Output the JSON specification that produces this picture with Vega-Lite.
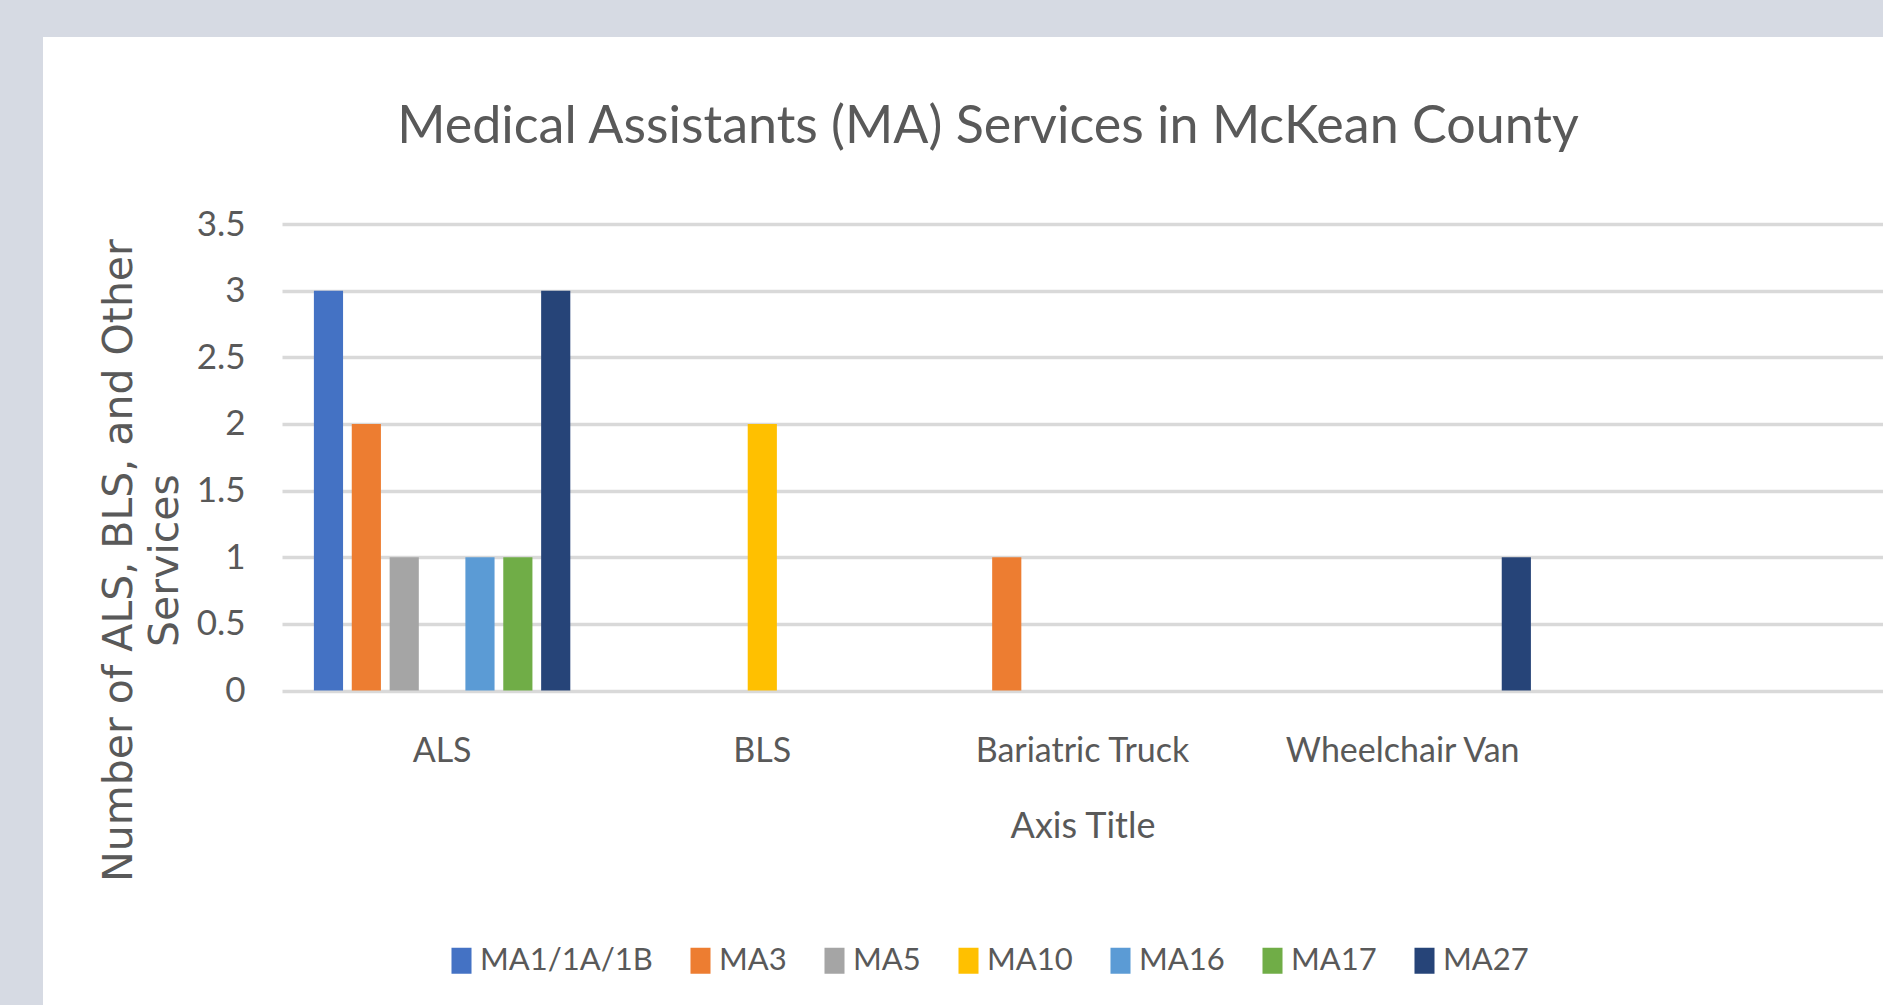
{
  "$schema": "https://vega.github.io/schema/vega-lite/v6.json",
  "width": 1840,
  "height": 968,
  "autosize": {"type": "none"},
  "padding": {"left": 43, "top": 37, "right": 0, "bottom": 0},
  "background": "#d6dae3",
  "title": {
    "text": "Medical Assistants (MA) Services in McKean County",
    "anchor": "middle",
    "frame": "group",
    "offset": 0,
    "baseline": "alphabetic",
    "dy": 158,
    "dx": 25,
    "font": "Lato",
    "fontSize": 52,
    "fontWeight": "normal",
    "color": "#595959"
  },
  "data": {
    "values": [
      {"service": "ALS", "unit": "MA1/1A/1B", "count": 3},
      {"service": "ALS", "unit": "MA3", "count": 2},
      {"service": "ALS", "unit": "MA5", "count": 1},
      {"service": "ALS", "unit": "MA16", "count": 1},
      {"service": "ALS", "unit": "MA17", "count": 1},
      {"service": "ALS", "unit": "MA27", "count": 3},
      {"service": "BLS", "unit": "MA10", "count": 2},
      {"service": "Bariatric Truck", "unit": "MA3", "count": 1},
      {"service": "Wheelchair Van", "unit": "MA27", "count": 1}
    ]
  },
  "mark": {"type": "bar"},
  "encoding": {
    "x": {
      "field": "service",
      "type": "nominal",
      "sort": null,
      "scale": {
        "type": "band",
        "domain": ["ALS", "BLS", "Bariatric Truck", "Wheelchair Van", " "],
        "range": [239, 1840],
        "paddingInner": 0.172,
        "paddingOuter": 0.086
      },
      "axis": {
        "title": "Axis Title",
        "orient": "bottom",
        "offset": -314.5,
        "labelAngle": 0,
        "ticks": false,
        "tickSize": 0,
        "domain": false,
        "grid": false,
        "labelPadding": 44,
        "labelLimit": 1000,
        "labelFont": "Lato",
        "labelFontSize": 34,
        "labelColor": "#595959",
        "titleFont": "Lato",
        "titleFontSize": 36,
        "titleFontWeight": "normal",
        "titleColor": "#595959",
        "titlePadding": 41
      }
    },
    "xOffset": {
      "field": "unit",
      "type": "nominal",
      "scale": {
        "domain": ["MA1/1A/1B", "MA3", "MA5", "MA10", "MA16", "MA17", "MA27"],
        "paddingInner": 0.23,
        "paddingOuter": 0.115
      }
    },
    "y": {
      "field": "count",
      "type": "quantitative",
      "scale": {"domain": [0, 3.5], "range": [653.5, 187], "nice": false, "zero": true},
      "axis": {
        "title": ["Number of ALS, BLS, and Other", "Services"],
        "offset": -239,
        "values": [0, 0.5, 1, 1.5, 2, 2.5, 3, 3.5],
        "format": "~g",
        "ticks": false,
        "tickSize": 0,
        "domain": false,
        "grid": true,
        "gridColor": "#d9d9d9",
        "gridWidth": 3.5,
        "labelPadding": 37,
        "labelFont": "Lato",
        "labelFontSize": 35,
        "labelColor": "#595959",
        "titleFont": "DejaVu Sans",
        "titleFontSize": 41,
        "titleFontWeight": "normal",
        "titleColor": "#595959",
        "titleAngle": 270,
        "titleAlign": "center",
        "titleBaseline": "top",
        "titleX": -183,
        "titleY": 523,
        "titleLineHeight": 46
      }
    },
    "color": {
      "field": "unit",
      "type": "nominal",
      "scale": {
        "domain": ["MA1/1A/1B", "MA3", "MA5", "MA10", "MA16", "MA17", "MA27"],
        "range": ["#4472C4", "#ED7D31", "#A5A5A5", "#FFC000", "#5B9BD5", "#70AD47", "#264478"]
      },
      "legend": {
        "title": null,
        "orient": "none",
        "legendX": 403,
        "legendY": 908,
        "direction": "horizontal",
        "columns": 7,
        "symbolType": "M-0.77,-1L0.77,-1L0.77,1L-0.77,1Z",
        "symbolSize": 676,
        "symbolStrokeWidth": 0,
        "symbolOpacity": 1,
        "labelFont": "Lato",
        "labelFontSize": 31,
        "labelColor": "#595959",
        "labelOffset": 3,
        "columnPadding": 32,
        "padding": 0,
        "labelLimit": 400
      }
    }
  },
  "config": {"view": {"fill": "white", "stroke": null}}
}
